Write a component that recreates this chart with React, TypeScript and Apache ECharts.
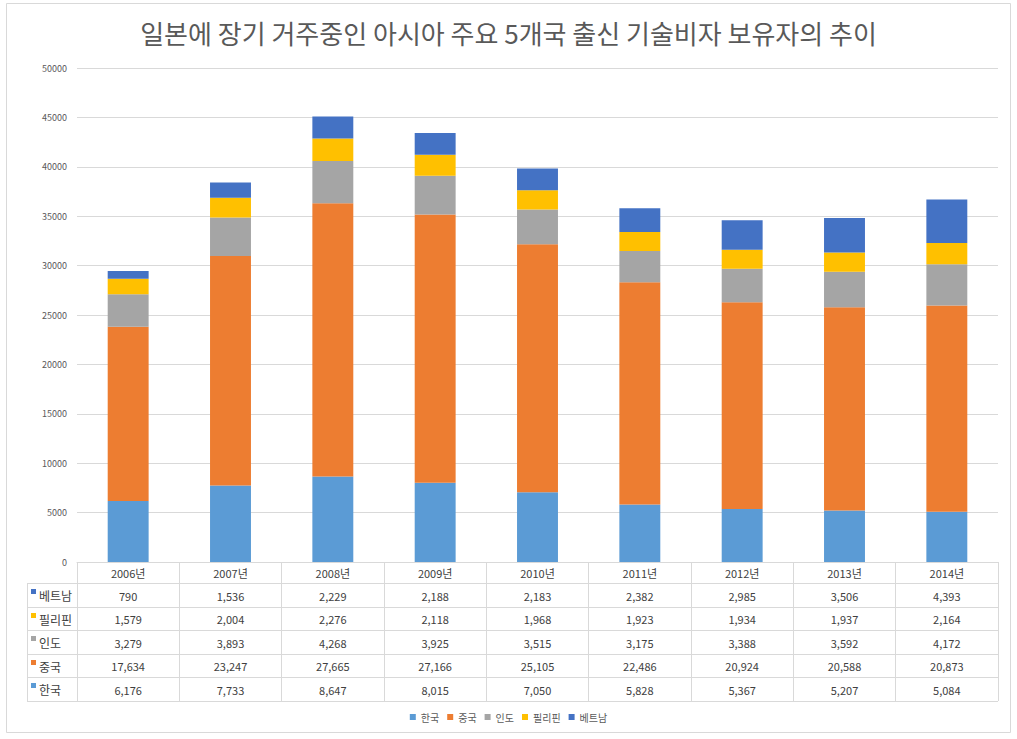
import React, { useEffect, useRef } from "react";
import * as echarts from "echarts";

const categories = ["2006년", "2007년", "2008년", "2009년", "2010년", "2011년", "2012년", "2013년", "2014년"];
const korea = [6176, 7733, 8647, 8015, 7050, 5828, 5367, 5207, 5084];
const china = [17634, 23247, 27665, 27166, 25105, 22486, 20924, 20588, 20873];
const india = [3279, 3893, 4268, 3925, 3515, 3175, 3388, 3592, 4172];
const philippines = [1579, 2004, 2276, 2118, 1968, 1923, 1934, 1937, 2164];
const vietnam = [790, 1536, 2229, 2188, 2183, 2382, 2985, 3506, 4393];

const seriesNames = ["한국", "중국", "인도", "필리핀", "베트남"];
const seriesData = [korea, china, india, philippines, vietnam];
const seriesColors = ["#5B9BD5", "#ED7D31", "#A5A5A5", "#FFC000", "#4472C4"];

const FONT = "'Noto Sans CJK KR', 'Noto Sans', sans-serif";

export default function App() {
  const ref = useRef<HTMLDivElement>(null);
  useEffect(() => {
    if (!ref.current) return;
    const chart = echarts.init(ref.current, null, { renderer: "svg" });
    const gridLeft = 77, gridTop = 68, gridRight = 998, gridBottom = 562;
    const rowLines = [583, 607, 630, 654, 677, 701];
    chart.setOption({
      animation: false,
      textStyle: { fontFamily: FONT },
      title: {
        text: "일본에 장기 거주중인 아시아 주요 5개국 출신 기술비자 보유자의 추이",
        left: "center",
        top: 14,
        textStyle: { fontFamily: FONT, fontSize: 26, fontWeight: "normal", color: "#595959" },
      },
      legend: {
        bottom: 12,
        left: "center",
        icon: "rect",
        itemWidth: 6,
        itemHeight: 6,
        itemGap: 8,
        textStyle: { fontSize: 10, color: "#595959", fontFamily: FONT },
        data: seriesNames,
      },
      grid: { left: gridLeft, top: gridTop, right: 1017 - gridRight, bottom: 739 - gridBottom },
      xAxis: {
        type: "category",
        data: categories,
        axisLine: { show: true, lineStyle: { color: "#D9D9D9" } },
        axisTick: { show: true, length: 701 - 562, lineStyle: { color: "#D9D9D9" } },
        axisLabel: { fontSize: 11, color: "#404040", margin: 5, fontFamily: FONT },
      },
      yAxis: {
        type: "value",
        min: 0,
        max: 50000,
        interval: 5000,
        axisLine: { show: false },
        axisTick: { show: false },
        axisLabel: {
          fontSize: 9,
          color: "#595959",
          margin: 10,
          fontFamily: FONT,
          formatter: (v: number) => String(v),
        },
        splitLine: { lineStyle: { color: "#D9D9D9" } },
      },
      series: seriesNames.map((n, i) => ({
        name: n,
        type: "bar",
        stack: "total",
        barWidth: "40%",
        data: seriesData[i],
        itemStyle: { color: seriesColors[i] },
      })),
    });

    const xs = categories.map((c) => chart.convertToPixel({ xAxisIndex: 0 }, c) as number);
    const graphics: any[] = [
      {
        type: "rect",
        shape: { x: 6.5, y: 3.5, width: 1004, height: 729 },
        style: { fill: "none", stroke: "#D9D9D9", lineWidth: 1 },
        silent: true,
      },
      {
        type: "line",
        shape: { x1: 27.5, y1: rowLines[0], x2: 27.5, y2: rowLines[rowLines.length - 1] },
        style: { stroke: "#D9D9D9", lineWidth: 1 },
      },
    ];
    rowLines.forEach((y) => {
      graphics.push({
        type: "line",
        shape: { x1: 27, y1: y + 0.5, x2: gridRight, y2: y + 0.5 },
        style: { stroke: "#D9D9D9", lineWidth: 1 },
      });
    });
    const order = [4, 3, 2, 1, 0];
    order.forEach((si, r) => {
      const yc = (rowLines[r] + rowLines[r + 1]) / 2 + 0.5;
      graphics.push({
        type: "rect",
        shape: { x: 31, y: rowLines[r] + 6, width: 5, height: 5 },
        style: { fill: seriesColors[si] },
      });
      graphics.push({
        type: "text",
        x: 39,
        y: yc,
        style: {
          text: seriesNames[si],
          fontSize: 12,
          fill: "#404040",
          fontFamily: FONT,
          verticalAlign: "middle",
          align: "left",
        },
      });
      seriesData[si].forEach((v, ci) => {
        graphics.push({
          type: "text",
          x: xs[ci],
          y: yc,
          style: {
            text: v.toLocaleString("en-US"),
            fontSize: 11,
            fill: "#404040",
            fontFamily: FONT,
            verticalAlign: "middle",
            align: "center",
          },
        });
      });
    });
    chart.setOption({ graphic: graphics });
    return () => chart.dispose();
  }, []);
  return (
    <div
      ref={ref}
      style={{ position: "fixed", left: 0, top: 0, width: 1017, height: 739, background: "#fff" }}
    />
  );
}
